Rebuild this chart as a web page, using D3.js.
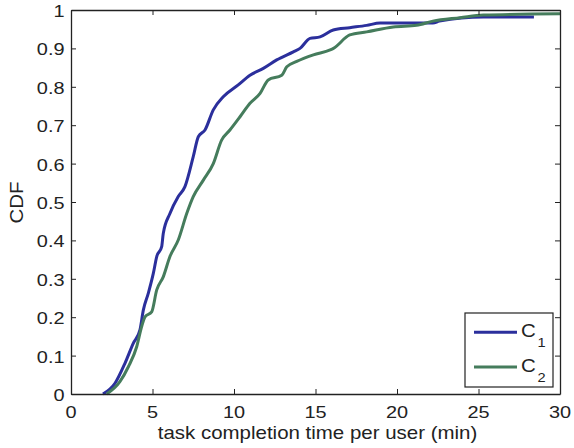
<!DOCTYPE html>
<html><head><meta charset="utf-8">
<script src="https://cdn.jsdelivr.net/npm/d3@7"></script>
<style>body{margin:0;background:#fff}svg{display:block}text{font-family:"Liberation Sans",Arial,sans-serif;fill:#222}</style>
</head><body><svg id="c" width="574" height="448"></svg>
<script>
const seriesNames = ["C1", "C2"];
const c1Time = [1.96,2.7,3.31,3.82,4.23,4.44,4.74,5.05,5.26,5.56,5.66,6.07,6.58,6.99,7.5,7.81,8.22,8.73,9.34,10.26,10.98,11.8,12.62,13.64,14.05,14.66,15.28,16.09,17.1,18.14,18.96,22.2,22.6,25.3,28.4];
const c1Cdf  = [0,0.028,0.08,0.132,0.167,0.219,0.262,0.314,0.358,0.383,0.418,0.47,0.514,0.54,0.618,0.67,0.6875,0.74,0.774,0.805,0.83,0.848,0.87,0.891,0.9,0.926,0.93,0.948,0.954,0.96,0.966,0.966,0.971,0.982,0.982];
const c2Time = [2.19,3.0,3.52,4.03,4.33,4.54,4.95,5.26,5.66,6.07,6.58,7.1,7.5,8.12,8.73,9.24,9.75,10.37,10.98,11.6,12.1,12.93,13.24,13.85,14.87,15.9,16.1,17.1,18.14,19.77,21.2,22.2,23.87,25.3,30];
const c2Cdf  = [0,0.032,0.071,0.123,0.175,0.201,0.214,0.271,0.305,0.358,0.401,0.47,0.514,0.557,0.6,0.661,0.6875,0.722,0.757,0.783,0.818,0.83,0.852,0.866,0.883,0.896,0.9,0.935,0.943,0.956,0.96,0.971,0.98,0.987,0.99];
const xTicks = [0,5,10,15,20,25,30];
const yTicks = [0,0.1,0.2,0.3,0.4,0.5,0.6,0.7,0.8,0.9,1];
const colors = ["#2b2f9c", "#457c5c"];

const svg = d3.select("#c");
const L=71, R=560, T=10, B=394;
const SX = 1.17, FS = 17;
const x = d3.scaleLinear().domain([0,30]).range([L,R]);
const y = d3.scaleLinear().domain([0,1]).range([B,T]);

const series = [
  c1Time.map((t,i)=>[t,c1Cdf[i]]),
  c2Time.map((t,i)=>[t,c2Cdf[i]])
];
const line = d3.line().x(d=>x(d[0])).y(d=>y(d[1])).curve(d3.curveMonotoneX);
series.forEach((s,i)=>{
  svg.append("path").attr("d",line(s)).attr("fill","none")
    .attr("stroke",colors[i]).attr("stroke-width",3).attr("stroke-linejoin","round");
});

const gx = svg.append("g").attr("transform",`translate(0,${B})`)
  .call(d3.axisBottom(x).tickValues(xTicks).tickSizeInner(-5).tickSizeOuter(0).tickFormat(""));
const gxt = svg.append("g").attr("transform",`translate(0,${T})`)
  .call(d3.axisTop(x).tickValues(xTicks).tickSizeInner(-5).tickSizeOuter(0).tickFormat(""));
const gy = svg.append("g").attr("transform",`translate(${L},0)`)
  .call(d3.axisLeft(y).tickValues(yTicks).tickSizeInner(-5).tickSizeOuter(0).tickFormat(""));
const gyr = svg.append("g").attr("transform",`translate(${R},0)`)
  .call(d3.axisRight(y).tickValues(yTicks).tickSizeInner(-5).tickSizeOuter(0).tickFormat(""));
[gx,gxt,gy,gyr].forEach(g=>{
  g.select(".domain").attr("stroke","#222").attr("stroke-width",1.3);
  g.selectAll(".tick line").attr("stroke","#222");
});

function label(tx, ty, txt, anchor, rot, fs){
  return svg.append("text")
    .attr("transform",`translate(${tx},${ty})${rot?` rotate(${rot})`:""} scale(${SX},1)`)
    .attr("text-anchor",anchor).style("font-size",(fs||FS)+"px").text(txt);
}
const fmt = d=> d===0?"0":d===1?"1":d3.format(".1f")(d);
xTicks.forEach(v=>label(x(v), B+24, String(v), "middle"));
yTicks.forEach(v=>label(L-6.5, y(v)+7, fmt(v), "end"));
label((L+R)/2+2, 439, "task completion time per user (min)", "middle", 0, 17.5);
label(22.7, 202.5, "CDF", "middle", -90, 17.5);

// legend
const lg = svg.append("g");
lg.append("rect").attr("x",465).attr("y",313).attr("width",88).attr("height",74)
  .attr("fill","#fff").attr("stroke","#222").attr("stroke-width",1.2);
seriesNames.forEach((n,i)=>{
  const yy = 332.3 + i*34.7;
  lg.append("line").attr("x1",474).attr("x2",517).attr("y1",yy).attr("y2",yy)
    .attr("stroke",colors[i]).attr("stroke-width",3);
  label(521, yy+4.5, n[0], "start", 0, 17.5);
  label(537.5, yy+14.5, n.slice(1), "start", 0, 12.5);
});
</script></body></html>
